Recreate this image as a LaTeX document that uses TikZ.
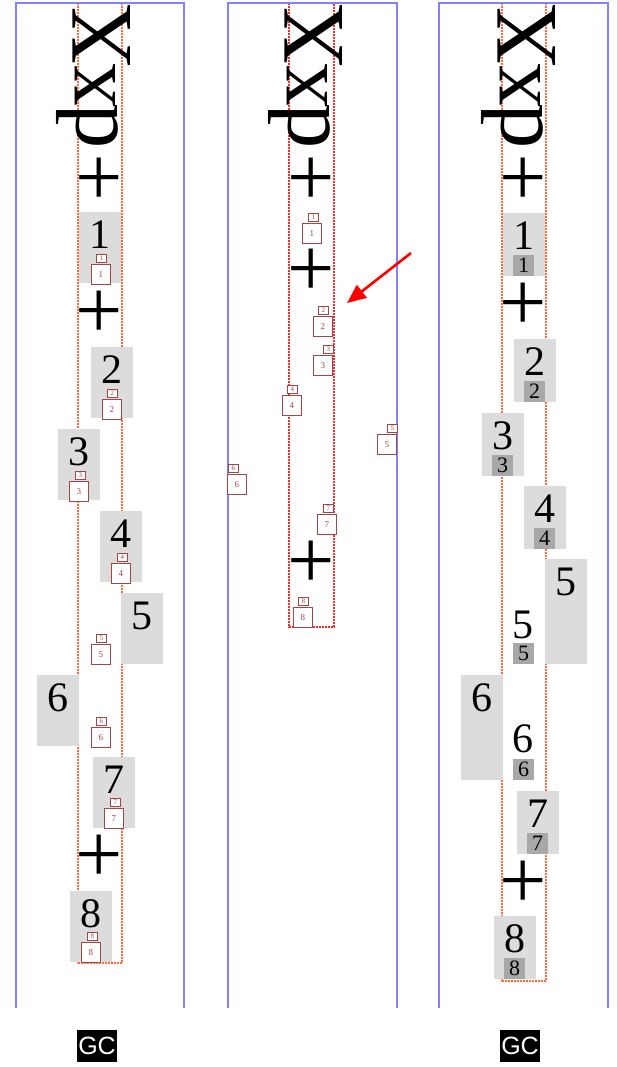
\documentclass[tikz,border=0pt]{standalone}
\usepackage{fontspec}
\setmainfont{Liberation Serif}
\newfontfamily\labelfont{Liberation Sans}
\usepackage{tikz}
\usetikzlibrary{arrows.meta}
\definecolor{frameblue}{RGB}{130,130,255}
\definecolor{colorange}{RGB}{255,105,60}
\definecolor{colred}{RGB}{245,45,45}
\definecolor{boxgray}{RGB}{220,220,220}
\definecolor{taggray}{RGB}{168,168,168}
\definecolor{markred}{RGB}{160,70,70}
\newcommand{\fs}[1]{\fontsize{#1}{#1}\selectfont}
\tikzset{
  frameline/.style  = {frameblue,line width=2pt},
  columnline/.style = {line width=2pt,dash pattern=on 2pt off 1pt},
  sideglyph/.style  = {inner sep=0pt,rotate=90,font=\fs{88}},
  plusglyph/.style  = {inner sep=0pt,font=\fs{84}},
  bigdigit/.style   = {inner sep=0pt,font=\fs{42}},
  markbox/.style    = {draw=markred,fill=white,line width=0.8pt,inner sep=0pt,
                       minimum width=19pt,minimum height=20pt,text=markred,font=\fs{9}},
  marktag/.style    = {draw=markred,fill=white,line width=0.8pt,inner sep=0pt,
                       minimum width=10pt,minimum height=8pt,text=markred,font=\fs{7}},
  darktag/.style    = {fill=taggray,inner sep=0pt,minimum size=21pt,font=\fs{22}},
  gclabel/.style    = {fill=black,text=white,inner sep=0pt,minimum width=40pt,
                       minimum height=32pt,font=\labelfont\fs{25}},
  pointer/.style    = {-{Triangle[length=19pt,width=16pt]},red,line width=2.6pt}
}
\newcommand{\panelframe}[2]{%
  \draw[frameline] (#1,1008) -- (#1,3) -- (#2,3) -- (#2,1008);
}
\newcommand{\glyphcolumn}[4]{%
  \draw[columnline,draw=#4] (#1,3) rectangle (#2,#3);
}
\newcommand{\sidetext}[2]{%
  \node[sideglyph] (#1d) at (#2+87.5,127) {d};
  \node[sideglyph] (#1x) at (#2+95.5,86) {x};
  \node[sideglyph] (#1X) at (#2+102,35.5) {X};
}
\newcommand{\pluses}[4]{%
  \node[plusglyph] (#1a) at (#2,182) {+};
  \node[plusglyph] (#1b) at (#2,#3) {+};
  \node[plusglyph] (#1c) at (#2,#4) {+};
}
\newcommand{\glyphbox}[5]{%
  \fill[boxgray] (#2,#3) rectangle ++(42,#4);
  \node[bigdigit] (#1) at (#2+21,#3+23) {#5};
}
\newcommand{\glyphmark}[5]{%
  \node[markbox,anchor=north west] (#1) at (#2,#3) {#5};
  \node[marktag,anchor=south west] (#1t) at (#4,#3-1) {#5};
}
\newcommand{\glyphtag}[4]{%
  \node[darktag,anchor=south west] (#1) at (#2,#3) {#4};
}
\newcommand{\shadedglyph}[4]{%
  \glyphbox{#1}{#2}{#3}{63}{#4}
  \glyphtag{#1s}{#2+10}{#3+63}{#4}
}

\begin{document}
\begin{tikzpicture}[x=1pt,y=-1pt]
  \useasboundingbox (0,0) rectangle (616,1067);
  \glyphcolumn{78}{122}{963}{colorange}
  \glyphcolumn{289}{334}{627}{colred}
  \glyphcolumn{502}{546}{981}{colorange}
  \panelframe{16}{184}
  \panelframe{228}{397}
  \panelframe{439}{608}
  \sidetext{la}{0}
  \sidetext{ma}{212}
  \sidetext{ra}{425}
  \pluses{lp}{99}{315}{859}
  \pluses{mp}{311}{273}{565}
  \pluses{rp}{523}{307}{885}

  \glyphbox{l1}{79}{212}{71}{1}   \glyphmark{lm1}{91}{264}{96}{1}
  \glyphbox{l2}{91}{347}{71}{2}   \glyphmark{lm2}{102}{399}{107}{2}
  \glyphbox{l3}{58}{429}{71}{3}   \glyphmark{lm3}{69}{481}{75}{3}
  \glyphbox{l4}{100}{511}{71}{4}  \glyphmark{lm4}{111}{563}{117}{4}
  \glyphbox{l5}{121}{593}{71}{5}  \glyphmark{lm5}{91}{644}{96}{5}
  \glyphbox{l6}{37}{675}{71}{6}   \glyphmark{lm6}{91}{727}{96}{6}
  \glyphbox{l7}{93}{757}{71}{7}   \glyphmark{lm7}{104}{808}{110}{7}
  \glyphbox{l8}{70}{891}{71}{8}   \glyphmark{lm8}{81}{942}{87}{8}

  \glyphmark{mm1}{302}{223}{308}{1}
  \glyphmark{mm2}{313}{316}{318}{2}
  \glyphmark{mm3}{313}{355}{323}{3}
  \glyphmark{mm4}{282}{395}{287}{4}
  \glyphmark{mm5}{377}{434}{387}{5}
  \glyphmark{mm6}{227}{474}{228}{6}
  \glyphmark{mm7}{317}{514}{323}{7}
  \glyphmark{mm8}{293}{607}{298}{8}

  \shadedglyph{r1}{503}{213}{1}
  \shadedglyph{r2}{514}{339}{2}
  \shadedglyph{r3}{482}{413}{3}
  \shadedglyph{r4}{524}{486}{4}
  \glyphbox{r5w}{545}{559}{105}{5}
  \node[bigdigit] (r5) at (523,625) {5};
  \glyphtag{r5s}{513}{664}{5}
  \glyphbox{r6w}{461}{675}{105}{6}
  \node[bigdigit] (r6) at (523,739) {6};
  \glyphtag{r6s}{513}{780}{6}
  \shadedglyph{r7}{517}{791}{7}
  \shadedglyph{r8}{494}{916}{8}

  \coordinate (arrowtail) at (411,253);
  \coordinate (arrowtip) at (347,303);
  \draw[pointer] (arrowtail) -- (arrowtip);

  \node[gclabel] (gcleft) at (97,1046) {GC};
  \node[gclabel] (gcright) at (520,1046) {GC};
\end{tikzpicture}
\end{document}
